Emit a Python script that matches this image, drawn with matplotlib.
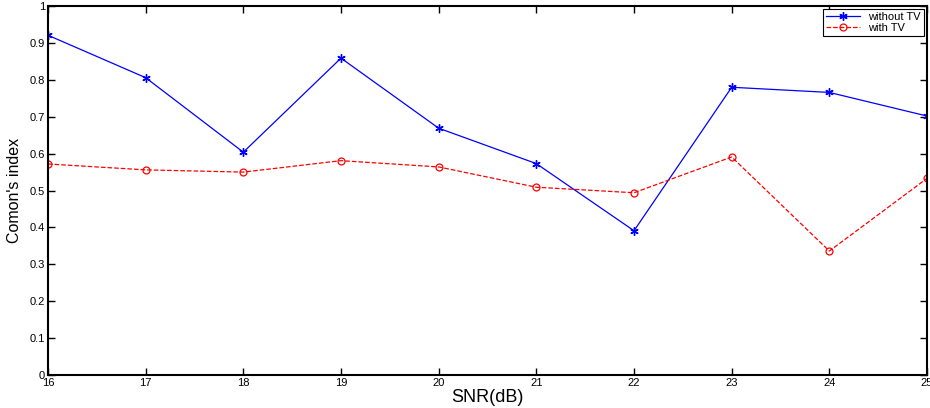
import matplotlib
matplotlib.use('Agg')
from matplotlib import pyplot as plt
import numpy as np

plt.rcParams['font.family'] = ['Liberation Sans', 'DejaVu Sans']

snr = [16, 17, 18, 19, 20, 21, 22, 23, 24, 25]
without_tv = [0.921, 0.806, 0.604, 0.859, 0.669, 0.573, 0.391, 0.780, 0.766, 0.702]
with_tv = [0.572, 0.556, 0.550, 0.581, 0.564, 0.509, 0.494, 0.591, 0.336, 0.533]
yticks = [0, 0.1, 0.2, 0.3, 0.4, 0.5, 0.6, 0.7, 0.8, 0.9, 1]

fig = plt.figure(figsize=(9.3, 4.08), dpi=100)
ax = fig.add_axes([0.0516, 0.081, 0.9452, 0.904])

# matlab style asterisk marker
ax.plot(snr, without_tv, color='b', ls='-', marker=(6, 2, 0), lw=0.9, markersize=6,
        markeredgewidth=1.0, label='without TV')
ax.plot(snr, with_tv, '--ro', lw=0.9, markersize=5, markerfacecolor='none',
        markeredgewidth=0.9, label='with TV')

ax.set_xlim(16, 25)
ax.set_ylim(0, 1)
ax.set_xticks(snr)
ax.set_yticks(yticks)
ax.set_yticklabels(['0', '0.1', '0.2', '0.3', '0.4', '0.5', '0.6', '0.7', '0.8', '0.9', '1'])
ax.tick_params(direction='in', length=5, width=1, labelsize=8, top=True, right=True, pad=2)
for s in ax.spines.values():
    s.set_linewidth(1.5)

ax.set_xlabel('SNR(dB)', fontsize=13, labelpad=1)
ax.set_ylabel("Comon's index", fontsize=11.5, labelpad=6)

leg = ax.legend(loc='upper right', fontsize=8, fancybox=False, edgecolor='black',
                framealpha=1, borderpad=0.25, handlelength=3.0, labelspacing=0.1,
                borderaxespad=0.3)
leg.get_frame().set_linewidth(0.8)

fig.savefig('out.png', dpi=100)
